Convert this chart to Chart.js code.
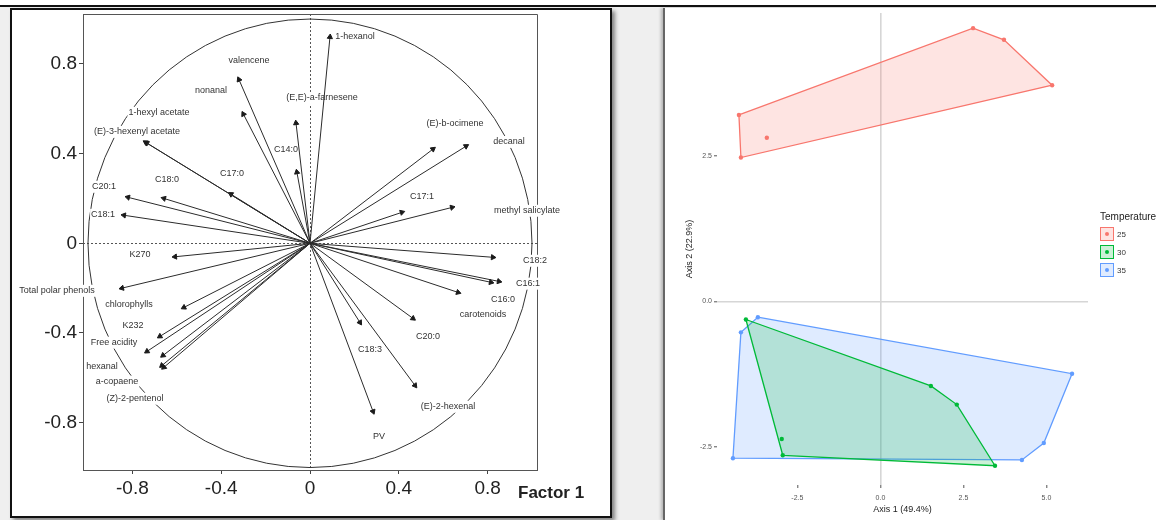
<!DOCTYPE html>
<html><head><meta charset="utf-8">
<script src="https://cdn.jsdelivr.net/npm/chart.js@4.4.0/dist/chart.umd.min.js"></script>
<style>
html,body{margin:0;padding:0;}
body{width:1156px;height:520px;background:#efefef;position:relative;overflow:hidden;font-family:"Liberation Sans",Arial,sans-serif;}
#topbar{position:absolute;left:0;top:0;width:1156px;height:5px;background:#fff;border-bottom:2px solid #111;z-index:5;}
#leftPanel{position:absolute;left:10px;top:8px;width:598px;height:506px;background:#fff;border:2px solid #111;box-shadow:3px 3px 4px rgba(0,0,0,0.45);}
#rightPanel{position:absolute;left:663px;top:8px;width:493px;height:512px;background:#fff;border-left:2px solid #666;box-shadow:-2px 0 3px rgba(0,0,0,0.25);}
#c1{position:absolute;left:12px;top:10px;}
#c2{position:absolute;left:665px;top:9px;}
</style>
</head><body>
<div id="topbar"></div>
<div id="leftPanel"></div>
<div id="rightPanel"></div>
<canvas id="c1" width="598" height="506"></canvas>
<canvas id="c2" width="491" height="511"></canvas>
<script>
// ---------- Left panel: loadings (correlation circle) ----------
const varNames = ['1-hexanol','valencene','nonanal','(E,E)-a-farnesene','C14:0','1-hexyl acetate','(E)-3-hexenyl acetate','C17:0','C18:0','C20:1','C18:1','K270','Total polar phenols','chlorophylls','K232','Free acidity','hexanal','a-copaene','(Z)-2-pentenol','PV','C18:3','(E)-2-hexenal','C20:0','carotenoids','C16:0','C16:1','C18:2','methyl salicylate','C17:1','decanal','(E)-b-ocimene'];
const factor1 = [0.09,-0.32,-0.30,-0.063,-0.059,-0.74,-0.735,-0.356,-0.658,-0.82,-0.838,-0.608,-0.847,-0.568,-0.676,-0.734,-0.662,-0.667,-0.658,0.284,0.225,0.473,0.464,0.667,0.815,0.851,0.824,0.64,0.414,0.703,0.554];
const factor2 = [0.92,0.73,0.576,0.536,0.317,0.45,0.447,0.219,0.20,0.205,0.125,-0.06,-0.20,-0.286,-0.415,-0.482,-0.50,-0.545,-0.553,-0.75,-0.353,-0.634,-0.335,-0.219,-0.174,-0.17,-0.0625,0.16,0.138,0.433,0.42];
const labelX = [0.203,-0.275,-0.446,0.054,-0.108,-0.680,-0.779,-0.351,-0.644,-0.928,-0.932,-0.766,-1.140,-0.815,-0.797,-0.883,-0.937,-0.869,-0.788,0.311,0.270,0.622,0.532,0.779,0.869,0.982,1.014,0.977,0.505,0.896,0.653];
const labelY = [0.920,0.813,0.680,0.648,0.417,0.582,0.497,0.310,0.283,0.252,0.127,-0.051,-0.212,-0.274,-0.368,-0.443,-0.550,-0.617,-0.693,-0.860,-0.475,-0.729,-0.417,-0.319,-0.252,-0.180,-0.078,0.145,0.207,0.452,0.533];
const tickVals1 = [-0.8,-0.4,0,0.4,0.8];
const tickLabels1 = ['-0.8','-0.4','0','0.4','0.8'];
const axisName1 = 'Factor 1';

// ---------- Right panel: scores by temperature ----------
const groups = ['25','30','35'];
const g25x = [-4.26,-4.20,-3.42,2.79,3.72,5.17];
const g25y = [3.20,2.47,2.81,4.69,4.49,3.71];
const hull25 = [0,3,4,5,1,0];
const g30x = [-4.05,-2.97,-2.94,1.52,2.30,3.45];
const g30y = [-0.31,-2.36,-2.64,-1.45,-1.77,-2.82];
const hull30 = [0,3,4,5,2,0];
const g35x = [-3.69,-4.20,-4.44,5.77,4.92,4.26];
const g35y = [-0.27,-0.53,-2.69,-1.24,-2.43,-2.72];
const hull35 = [0,3,4,5,2,1,0];
const xTicks2 = [-2.5,0,2.5,5.0];
const yTicks2 = [-2.5,0,2.5];
const axisTitleX2 = 'Axis 1 (49.4%)';
const axisTitleY2 = 'Axis 2 (22.9%)';
const legendTitle2 = 'Temperature';

const FONT = '"Liberation Sans", Arial, sans-serif';

function noPadY(s, w){ s.width = w; s.paddingTop = 0; s.paddingBottom = 0; }
function noPadX(s, h){ s.height = h; s.paddingLeft = 0; s.paddingRight = 0; }

// ===== Left chart =====
const arrowDatasets = varNames.map((n,i)=>({
  label:n,
  data:[{x:0,y:0},{x:factor1[i],y:factor2[i]}],
  showLine:true, borderColor:'#2b2b2b', borderWidth:1,
  pointRadius:[0,3], pointHoverRadius:[0,3],
  pointStyle:'triangle',
  pointRotation: Math.atan2(factor1[i], factor2[i])*180/Math.PI,
  pointBackgroundColor:'#1a1a1a', pointBorderColor:'#1a1a1a', pointBorderWidth:1,
  clip:false
}));

const circlePlugin = {
  id:'circlePlugin',
  beforeDatasetsDraw(chart){
    const {ctx, chartArea:ca, scales:{x,y}} = chart;
    const x0 = x.getPixelForValue(0), y0 = y.getPixelForValue(0);
    ctx.save();
    ctx.strokeStyle='#555'; ctx.lineWidth=1;
    ctx.beginPath();
    ctx.moveTo(ca.left, ca.top+0.5); ctx.lineTo(ca.right+0.5, ca.top+0.5); ctx.lineTo(ca.right+0.5, ca.bottom);
    ctx.stroke();
    ctx.setLineDash([2,2]); ctx.strokeStyle='#555';
    ctx.beginPath();
    ctx.moveTo(ca.left, Math.round(y0)+0.5); ctx.lineTo(ca.right, Math.round(y0)+0.5);
    ctx.moveTo(Math.round(x0)+0.5, ca.top); ctx.lineTo(Math.round(x0)+0.5, ca.bottom);
    ctx.stroke();
    ctx.setLineDash([]);
    const rx = x.getPixelForValue(1)-x0, ry = y0 - y.getPixelForValue(1);
    ctx.strokeStyle='#333'; ctx.lineWidth=1;
    ctx.beginPath(); ctx.ellipse(x0,y0,rx,ry,0,0,Math.PI*2); ctx.stroke();
    ctx.font = '9px '+FONT; ctx.textAlign='center'; ctx.textBaseline='middle';
    varNames.forEach((n,i)=>{
      const px = x.getPixelForValue(labelX[i]), py = y.getPixelForValue(labelY[i]);
      const w = ctx.measureText(n).width;
      ctx.fillStyle='#fff'; ctx.fillRect(px-w/2-1, py-6, w+2, 12);
      ctx.fillStyle='#333'; ctx.fillText(n, px, py);
    });
    ctx.font = 'bold 17px '+FONT; ctx.fillStyle='#222'; ctx.textAlign='left';
    ctx.fillText(axisName1, ca.right-19, ca.bottom+23);
    ctx.restore();
  }
};

new Chart(document.getElementById('c1'), {
  type:'scatter',
  data:{datasets:arrowDatasets},
  options:{
    responsive:false, animation:false, events:[],
    layout:{padding:{left:0,top:4,right:73,bottom:0}},
    plugins:{legend:{display:false}, tooltip:{enabled:false}},
    scales:{
      x:{type:'linear', min:-1.0225, max:1.0225,
        afterBuildTicks:s=>{s.ticks = tickVals1.map(v=>({value:v}));},
        afterFit:s=>noPadX(s,46),
        grid:{drawOnChartArea:false, drawTicks:true, tickLength:4, tickColor:'#444'},
        border:{display:true, color:'#555', width:1},
        ticks:{autoSkip:false, maxRotation:0, padding:3, color:'#222', font:{size:19, family:FONT},
          callback:v=>tickLabels1[tickVals1.indexOf(v)]}
      },
      y:{type:'linear', min:-1.011, max:1.0225,
        afterBuildTicks:s=>{s.ticks = tickVals1.map(v=>({value:v}));},
        afterFit:s=>noPadY(s,71),
        grid:{drawOnChartArea:false, drawTicks:true, tickLength:4, tickColor:'#444'},
        border:{display:true, color:'#555', width:1},
        ticks:{autoSkip:false, padding:2, color:'#222', font:{size:19, family:FONT},
          callback:v=>tickLabels1[tickVals1.indexOf(v)]}
      }
    }
  },
  plugins:[circlePlugin]
});

// ===== Right chart =====
const colors = ['#F8766D','#00BA38','#619CFF'];
const fills = ['rgba(248,118,109,0.2)','rgba(0,186,56,0.2)','rgba(97,156,255,0.2)'];
const gx = [g25x,g30x,g35x], gy = [g25y,g30y,g35y], hulls = [hull25,hull30,hull35];

const hullDatasets = groups.map((g,k)=>({
  type:'line', label:g+' hull',
  data: hulls[k].map(i=>({x:gx[k][i], y:gy[k][i]})),
  borderColor:colors[k], backgroundColor:fills[k], borderWidth:1.3,
  fill:'shape', pointRadius:0, tension:0,
  order: k===2 ? 6 : 5
}));
const pointDatasets = groups.map((g,k)=>({
  type:'scatter', label:g,
  data: gx[k].map((v,i)=>({x:v, y:gy[k][i]})),
  backgroundColor:colors[k], borderColor:colors[k], pointRadius:2.2, borderWidth:0,
  order:1
}));

const rightPlugin = {
  id:'rightPlugin',
  afterDraw(chart){
    const {ctx, chartArea:ca} = chart;
    ctx.save();
    ctx.fillStyle='#222'; ctx.font='9px '+FONT; ctx.textAlign='center'; ctx.textBaseline='middle';
    ctx.fillText(axisTitleX2, (ca.left+ca.right)/2, 501);
    ctx.save(); ctx.translate(25,(ca.top+ca.bottom)/2); ctx.rotate(-Math.PI/2);
    ctx.fillText(axisTitleY2,0,0); ctx.restore();
    ctx.textAlign='left';
    ctx.font='10px '+FONT;
    ctx.fillText(legendTitle2, 435, 208);
    groups.forEach((g,k)=>{
      const by = 218 + k*18;
      ctx.fillStyle='#fff'; ctx.fillRect(435,by,14,14);
      ctx.fillStyle=fills[k]; ctx.fillRect(435,by,14,14);
      ctx.strokeStyle=colors[k]; ctx.lineWidth=1; ctx.strokeRect(435.5,by+0.5,13,13);
      ctx.fillStyle=colors[k]; ctx.beginPath(); ctx.arc(442,by+7,2,0,Math.PI*2); ctx.fill();
      ctx.fillStyle='#333'; ctx.font='8px '+FONT;
      ctx.fillText(g, 452, by+7.5);
    });
    ctx.restore();
  }
};

new Chart(document.getElementById('c2'), {
  type:'scatter',
  data:{datasets:[...hullDatasets, ...pointDatasets]},
  options:{
    responsive:false, animation:false, events:[],
    layout:{padding:{left:0,top:0,right:68,bottom:0}},
    plugins:{legend:{display:false}, tooltip:{enabled:false}},
    scales:{
      x:{type:'linear', min:-4.92, max:6.25,
        afterBuildTicks:s=>{s.ticks = xTicks2.map(v=>({value:v}));},
        afterFit:s=>noPadX(s,35),
        grid:{color:c=>(c.tick && c.tick.value===0)?'#d6d6d6':'rgba(0,0,0,0)', lineWidth:1.6, drawTicks:true, tickLength:3, tickColor:'#555', tickWidth:1},
        border:{display:false},
        ticks:{autoSkip:false, maxRotation:0, padding:6, color:'#555', font:{size:7, family:FONT},
          callback:v=>v.toFixed(1)}
      },
      y:{type:'linear', min:-3.15, max:4.95,
        afterBuildTicks:s=>{s.ticks = yTicks2.map(v=>({value:v}));},
        afterFit:s=>noPadY(s,52),
        grid:{color:c=>(c.tick && c.tick.value===0)?'#d6d6d6':'rgba(0,0,0,0)', lineWidth:1.6, drawTicks:true, tickLength:3, tickColor:'#555', tickWidth:1},
        border:{display:false},
        ticks:{autoSkip:false, padding:2, color:'#555', font:{size:7, family:FONT},
          callback:v=>v.toFixed(1)}
      }
    }
  },
  plugins:[rightPlugin]
});
</script>
</body></html>
